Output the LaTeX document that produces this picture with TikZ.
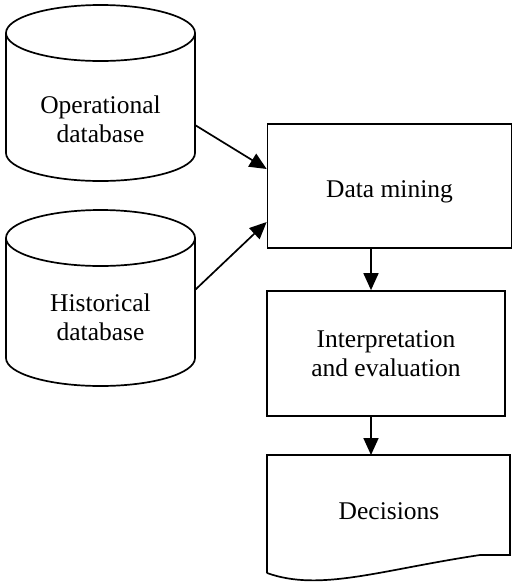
\documentclass[tikz,border=0pt]{standalone}
\usepackage{fontspec}
\setmainfont{Liberation Serif}
\usetikzlibrary{arrows.meta}
\tikzstyle{block} = [rectangle, draw, line width=1.7pt, text centered, align=center]
\tikzstyle{dbtext} = [align=center, inner sep=0pt]
\tikzstyle{outline} = [draw, line width=1.7pt]
\tikzstyle{line} = [draw, line width=1.7pt, -{Triangle[length=17pt,width=15pt]}]

\begin{document}
\begin{tikzpicture}[x=1pt, y=-1pt, font=\fontsize{25.5}{29}\selectfont]
    \useasboundingbox (0,0) rectangle (515,582);
    % Place nodes
    \node [dbtext] (opdb) at (100.5,119) {Operational\\database};
    \node [dbtext] (histdb) at (100.5,317) {Historical\\database};
    \node [block, minimum width=244pt, minimum height=124pt, text height=22pt, text depth=0pt] (mining) at (389.5,186) {Data mining};
    \node [block, minimum width=238pt, minimum height=125pt] (interp) at (386,353.5) {Interpretation\\and evaluation};
    \node (decide) at (389,511) {Decisions};
    \coordinate (opOut) at (195,125);
    \coordinate (histOut) at (195,290);
    \coordinate (decTop) at (371,455);

    % Draw shapes
    \draw [outline] (100.5,33) ellipse [x radius=94.5pt, y radius=28pt];
    \draw [outline] (6,33) -- (6,153) arc [start angle=180, end angle=360, x radius=94.5pt, y radius=28pt] -- (195,33);
    \draw [outline] (100.5,238) ellipse [x radius=94.5pt, y radius=28pt];
    \draw [outline] (6,238) -- (6,358) arc [start angle=180, end angle=360, x radius=94.5pt, y radius=28pt] -- (195,238);
    \draw [outline] (267,573) -- (267,455) -- (510,455) -- (510,555) -- (480,555)
        .. controls (380,570) and (320,592) .. (267,573);

    % Draw edges
    \path [line] (opOut) -- ([yshift=17pt]mining.west);
    \path [line] (histOut) -- ([yshift=-36pt]mining.west);
    \path [line] (mining.south -| decTop) -- (interp.north -| decTop);
    \path [line] (interp.south -| decTop) -- (decTop);
\end{tikzpicture}
\end{document}
